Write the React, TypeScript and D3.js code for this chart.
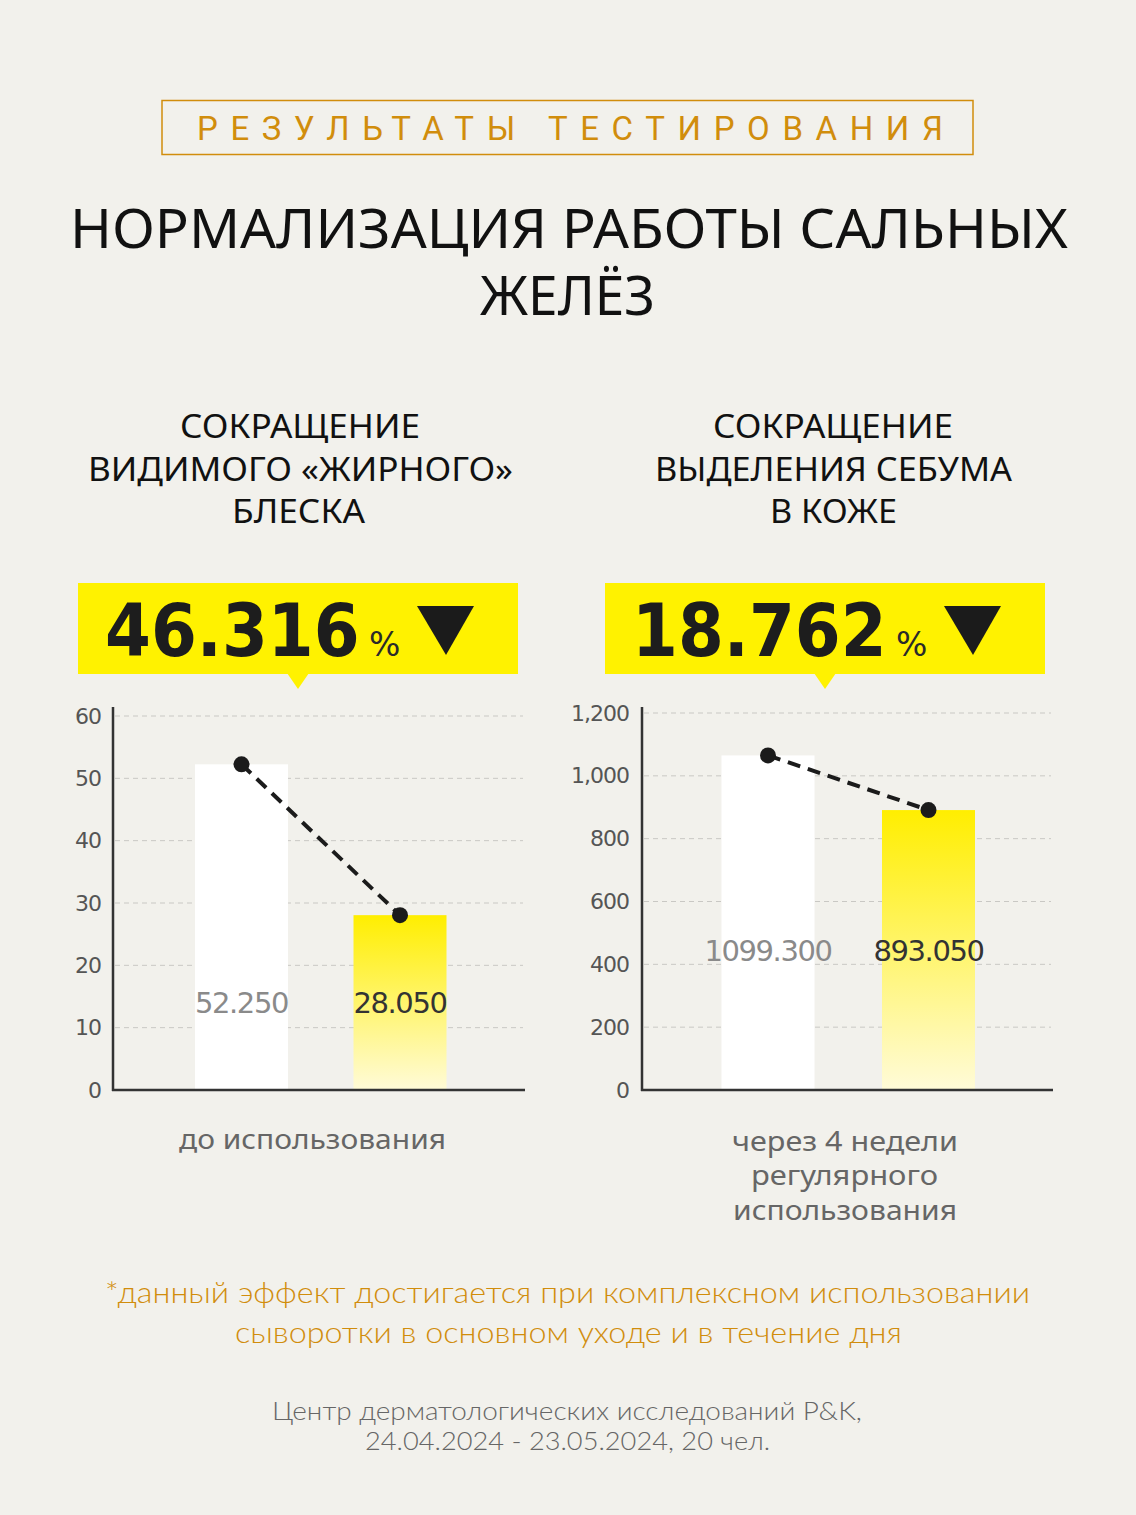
import React from "react";
import * as d3 from "d3";

// ---------- data ----------
const categories = ["до использования", "через 4 недели регулярного использования"];
const shineValues = [52.25, 28.05];
const shineLabels = ["52.250", "28.050"];
const shineTicks = [0, 10, 20, 30, 40, 50, 60];
const sebumValues = [1065, 891];
const sebumLabels = ["1099.300", "893.050"];
const sebumTicks = [0, 200, 400, 600, 800, 1000, 1200];
const changePct = ["46.316", "18.762"];
const chartTitles = [
  ["СОКРАЩЕНИЕ", "ВИДИМОГО «ЖИРНОГО»", "БЛЕСКА"],
  ["СОКРАЩЕНИЕ", "ВЫДЕЛЕНИЯ СЕБУМА", "В КОЖЕ"],
];

const BG = "#f2f1ec";
const GOLD = "#d18d0c";
const YELLOW = "#fff200";

type ChartProps = {
  id: string;
  axisX: number;
  axisEnd: number;
  y0: number;
  yTop: number;
  max: number;
  ticks: number[];
  values: number[];
  labels: string[];
  centerRange: [number, number];
  labelY: number;
  tickX: number;
};

function Chart(p: ChartProps) {
  const y = d3.scaleLinear().domain([0, p.max]).range([p.y0, p.yTop]);
  const x = d3.scalePoint<string>().domain(categories).range(p.centerRange);
  const bw = 93;
  const fmt = d3.format(",");
  const pts = p.values.map((v, i) => [x(categories[i])!, y(v)] as [number, number]);
  const line = d3.line()(pts) || "";
  return (
    <g>
      <defs>
        <linearGradient id={p.id} x1="0" y1="0" x2="0" y2="1">
          <stop offset="0%" stopColor="#ffee00" />
          <stop offset="100%" stopColor="#fffbd8" />
        </linearGradient>
      </defs>
      {p.ticks.map((t) => (
        <g key={t}>
          {t > 0 && (
            <line
              x1={p.axisX + 2}
              x2={p.axisEnd - 2}
              y1={y(t)}
              y2={y(t)}
              stroke="#c9c8c4"
              strokeWidth={1}
              strokeDasharray="5 4"
            />
          )}
          <text
            x={p.tickX}
            y={y(t)}
            textAnchor="end"
            dominantBaseline="central"
            fontFamily="'DejaVu Sans', Verdana, sans-serif"
            fontSize={22}
            fill="#555"
            letterSpacing={-1}
          >
            {fmt(t)}
          </text>
        </g>
      ))}
      {p.values.map((v, i) => (
        <rect
          key={i}
          x={x(categories[i])! - bw / 2}
          y={y(v)}
          width={bw}
          height={p.y0 - y(v)}
          fill={i === 0 ? "#ffffff" : `url(#${p.id})`}
        />
      ))}
      {p.labels.map((l, i) => (
        <text
          key={i}
          x={x(categories[i])!}
          y={p.labelY}
          textAnchor="middle"
          fontFamily="'DejaVu Sans', Verdana, sans-serif"
          fontSize={29}
          letterSpacing={-1.4}
          fill={i === 0 ? "#8a8a8a" : "#333"}
        >
          {l}
        </text>
      ))}
      <path d={line} fill="none" stroke="#1b1b1b" strokeWidth={4} strokeDasharray="13 8" />
      {pts.map((pt, i) => (
        <circle key={i} cx={pt[0]} cy={pt[1]} r={8} fill="#1b1b1b" />
      ))}
      <line x1={p.axisX} x2={p.axisX} y1={707} y2={p.y0 + 1} stroke="#333" strokeWidth={2.5} />
      <line x1={p.axisX - 1} x2={p.axisEnd} y1={p.y0} y2={p.y0} stroke="#333" strokeWidth={2.5} />
    </g>
  );
}

function Badge({ x0, pct }: { x0: number; pct: string }) {
  const w = 440;
  const cx = x0 + w / 2;
  return (
    <g>
      <rect x={x0} y={583} width={w} height={91} fill={YELLOW} />
      <path d={`M${cx - 11},673 L${cx + 11},673 L${cx},689 Z`} fill={YELLOW} />
      <text
        transform={`translate(${x0 + 27},656) scale(1,1.1)`}
        fontFamily="'DejaVu Sans', Verdana, sans-serif"
        fontWeight={700}
        fontSize={66}
        fill="#1d1d1d"
      >
        {pct}
      </text>
      <text x={x0 + 291} y={656} fontFamily="'DejaVu Sans', sans-serif" fontSize={33} fill="#2a2a2a">
        %
      </text>
      <path d={`M${x0 + 339},606 L${x0 + 396},606 L${x0 + 368},655 Z`} fill="#1b1b1b" />
    </g>
  );
}

export default function App() {
  const titleFont = "'Noto Sans', sans-serif";
  const bodyFont = "'Noto Sans', sans-serif";
  return (
    <svg
      width={1136}
      height={1515}
      style={{ position: "absolute", left: 0, top: 0, display: "block", background: BG }}
    >
      <rect x={0} y={0} width={1136} height={1515} fill={BG} />
      {/* header */}
      <rect x={162} y={100.5} width={811} height={54} fill="none" stroke={GOLD} strokeWidth={1.5} />
      <text
        x={197}
        y={140}
        fontFamily="Roboto"
        fontSize={33}
        fill={GOLD}
        textLength={746}
        lengthAdjust="spacing"
      >
        РЕЗУЛЬТАТЫ ТЕСТИРОВАНИЯ
      </text>
      <text x={70} y={248} fontFamily={titleFont} fontSize={54} fill="#111" textLength={998} lengthAdjust="spacingAndGlyphs">
        НОРМАЛИЗАЦИЯ РАБОТЫ САЛЬНЫХ
      </text>
      <text x={480} y={315} fontFamily={titleFont} fontSize={54} fill="#111" textLength={175} lengthAdjust="spacingAndGlyphs">
        ЖЕЛЁЗ
      </text>

      {/* chart titles */}
      {chartTitles[0].map((t, i) => (
        <text
          key={"a" + i}
          x={[180, 88, 232][i]}
          y={[438, 481, 523][i]}
          fontFamily={titleFont}
          fontSize={32}
          fill="#111"
          textLength={[240, 425, 133][i]}
          lengthAdjust="spacingAndGlyphs"
        >
          {t}
        </text>
      ))}
      {chartTitles[1].map((t, i) => (
        <text
          key={"b" + i}
          x={[713, 655, 770][i]}
          y={[438, 481, 523][i]}
          fontFamily={titleFont}
          fontSize={32}
          fill="#111"
          textLength={[240, 357, 127][i]}
          lengthAdjust="spacingAndGlyphs"
        >
          {t}
        </text>
      ))}

      <Badge x0={78} pct={changePct[0]} />
      <Badge x0={605} pct={changePct[1]} />

      <Chart
        id="g1"
        axisX={113}
        axisEnd={525}
        y0={1090}
        yTop={716}
        max={60}
        ticks={shineTicks}
        values={shineValues}
        labels={shineLabels}
        centerRange={[241.5, 400]}
        labelY={1013}
        tickX={101}
      />
      <Chart
        id="g2"
        axisX={642}
        axisEnd={1053}
        y0={1090}
        yTop={713}
        max={1200}
        ticks={sebumTicks}
        values={sebumValues}
        labels={sebumLabels}
        centerRange={[768, 928.5]}
        labelY={961}
        tickX={629}
      />

      {/* category captions */}
      <text x={179} y={1149} fontFamily={bodyFont} fontSize={27} fill="#666" textLength={267} lengthAdjust="spacingAndGlyphs">
        {categories[0]}
      </text>
      {["через 4 недели", "регулярного", "использования"].map((t, i) => (
        <text
          key={t}
          x={[732, 751, 733][i]}
          y={[1151, 1185, 1220][i]}
          fontFamily={bodyFont}
          fontSize={27}
          fill="#666"
          textLength={[226, 187, 224][i]}
          lengthAdjust="spacingAndGlyphs"
        >
          {t}
        </text>
      ))}

      {/* footnote */}
      <text x={105} y={1303} fontFamily="Lato" fontWeight={300} fontSize={29} fill={GOLD} textLength={925} lengthAdjust="spacingAndGlyphs">
        *данный эффект достигается при комплексном использовании
      </text>
      <text x={235} y={1343} fontFamily="Lato" fontWeight={300} fontSize={29} fill={GOLD} textLength={667} lengthAdjust="spacingAndGlyphs">
        сыворотки в основном уходе и в течение дня
      </text>
      <text x={272} y={1420} fontFamily="Lato" fontWeight={300} fontSize={26} fill="#666" textLength={590} lengthAdjust="spacingAndGlyphs">
        Центр дерматологических исследований P&amp;K,
      </text>
      <text x={365} y={1450} fontFamily="Lato" fontWeight={300} fontSize={26} fill="#666" textLength={405} lengthAdjust="spacingAndGlyphs">
        24.04.2024 - 23.05.2024, 20 чел.
      </text>
    </svg>
  );
}
